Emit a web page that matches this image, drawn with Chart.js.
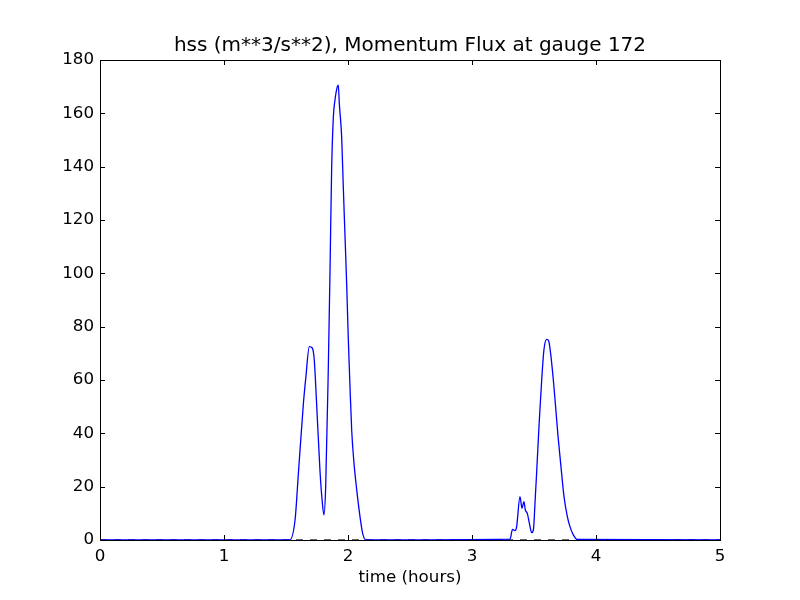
<!DOCTYPE html>
<html>
<head>
<meta charset="utf-8">
<script src="https://cdn.jsdelivr.net/npm/chart.js@4"></script>
<style>
  html, body { margin: 0; padding: 0; background: #fff; }
  #wrap { width: 800px; height: 600px; }
</style>
</head>
<body>
<div id="wrap"><canvas id="fluxChart" width="800" height="600"></canvas></div>
<script>
// waktu (jam) dan momentum flux di gauge 172
const hours = [0, 1.53, 1.573, 1.60, 1.64, 1.66, 1.688, 1.712, 1.728, 1.747, 1.774, 1.793, 1.806,
  1.82, 1.841, 1.855, 1.868, 1.882, 1.895, 1.914, 1.922, 1.93, 1.949, 1.962, 1.976, 1.99,
  2.002, 2.016, 2.03, 2.048, 2.07, 2.097, 2.118, 2.145,
  3.306, 3.327, 3.347, 3.36, 3.387, 3.403, 3.419, 3.43, 3.446, 3.463, 3.481, 3.495, 3.508,
  3.522, 3.543, 3.562, 3.58, 3.602, 3.618, 3.634, 3.656, 3.672, 3.694, 3.715, 3.742, 3.769,
  3.79, 3.817, 3.849, 5];
const flux = [0, 0, 7.5, 25, 51, 61, 72.5, 72, 67.5, 51, 26, 14, 9.4,
  20, 64, 101, 139, 158.7, 165, 170, 170.6, 163.7, 151, 132.5, 113.7, 95,
  76, 57.5, 41, 29, 19, 8.7, 2.5, 0,
  0.3, 4, 3.5, 5, 16.3, 11.9, 14.4, 11.25, 10, 6.25, 2.75, 3.75, 13.75,
  26, 45, 60, 71.25, 75.25, 74.75, 70, 60, 51.25, 38.75, 28.75, 16.25, 8.75,
  5, 1.9, 0.2, 0];
const zeroLine = [0, 5];
const xTicks = [0, 1, 2, 3, 4, 5];
const yTicks = [0, 20, 40, 60, 80, 100, 120, 140, 160, 180];

const fontName = "'DejaVu Sans', sans-serif";

// kotak sumbu + tick ke dalam ala matplotlib klasik
const frameTicks = {
  id: "frameTicks",
  afterDraw(chart) {
    const ctx = chart.ctx;
    const a = chart.chartArea;
    const xs = chart.scales.x;
    const ys = chart.scales.y;
    const len = 5;
    ctx.save();
    ctx.strokeStyle = "#000";
    ctx.lineWidth = 1;
    ctx.beginPath();
    xTicks.forEach(v => {
      const px = Math.round(xs.getPixelForValue(v)) + 0.5;
      ctx.moveTo(px, a.bottom); ctx.lineTo(px, a.bottom - len);
      ctx.moveTo(px, a.top); ctx.lineTo(px, a.top + len);
    });
    yTicks.forEach(v => {
      const py = Math.round(ys.getPixelForValue(v)) + 0.5;
      ctx.moveTo(a.left, py); ctx.lineTo(a.left + len, py);
      ctx.moveTo(a.right, py); ctx.lineTo(a.right - len, py);
    });
    ctx.stroke();
    ctx.strokeRect(Math.round(a.left) + 0.5, Math.round(a.top) + 0.5,
      Math.round(a.right - a.left), Math.round(a.bottom - a.top));
    ctx.restore();
  }
};

new Chart(document.getElementById("fluxChart"), {
  type: "line",
  data: {
    datasets: [{
      data: hours.map((t, i) => ({ x: t, y: flux[i] })),
      borderColor: "#0000ff",
      borderWidth: 1.3,
      pointRadius: 0,
      fill: false,
      cubicInterpolationMode: "monotone"
    }, {
      data: zeroLine.map(t => ({ x: t, y: 0 })),
      borderColor: "#000",
      borderWidth: 1.2,
      borderDash: [7, 7],
      pointRadius: 0,
      fill: false
    }]
  },
  options: {
    responsive: false,
    animation: false,
    layout: { padding: { left: 0, right: 80, top: 0, bottom: 10 } },
    plugins: {
      legend: { display: false },
      tooltip: { enabled: false }
    },
    scales: {
      x: {
        type: "linear",
        min: 0, max: 5,
        afterBuildTicks: s => { s.ticks = xTicks.map(v => ({ value: v })); },
        afterFit: s => { s.height = 50; },
        grid: { display: false, drawTicks: false },
        border: { display: false },
        ticks: { color: "#000", font: { family: fontName, size: 16.7 }, padding: 7, maxRotation: 0 },
        title: {
          display: true, text: "time (hours)", color: "#000",
          font: { family: fontName, size: 16.7 }, padding: 2
        }
      },
      // sumbu atas hanya untuk judul, supaya judul di tengah area plot
      top: {
        type: "linear",
        position: "top",
        min: 0, max: 5,
        afterFit: s => { s.height = 60; },
        grid: { display: false, drawTicks: false },
        border: { display: false },
        ticks: { display: false },
        title: {
          display: true,
          text: "hss (m**3/s**2), Momentum Flux at gauge 172",
          color: "#000",
          font: { family: fontName, size: 20 },
          padding: { top: 34, bottom: 0 }
        }
      },
      y: {
        type: "linear",
        min: 0, max: 180,
        afterBuildTicks: s => { s.ticks = yTicks.map(v => ({ value: v })); },
        afterFit: s => { s.width = 100; },
        grid: { display: false, drawTicks: false },
        border: { display: false },
        ticks: { color: "#000", font: { family: fontName, size: 16.7 }, padding: 6 }
      }
    }
  },
  plugins: [frameTicks]
});
</script>
</body>
</html>
